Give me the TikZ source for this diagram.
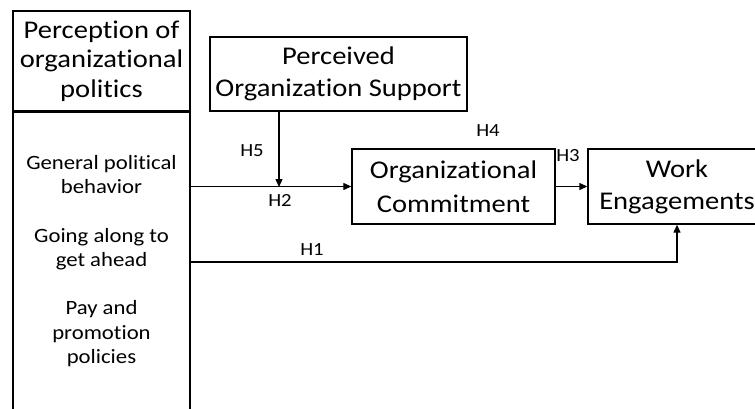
\documentclass[tikz,border=0pt]{standalone}
\usepackage{fontspec}
\setmainfont[FakeStretch=1.12, Ligatures=NoCommon]{Carlito}
\usetikzlibrary{arrows.meta}
\tikzset{
    box/.style={draw, line width=1.4pt, align=center, inner sep=0pt},
    bigtext/.style={font=\fontsize{25.5}{32}\selectfont},
    smalltext/.style={font=\fontsize{20.3}{24.4}\selectfont, align=center},
    hlabel/.style={font=\fontsize{18.5}{20}\selectfont, inner sep=0pt},
    link/.style={line width=1.3pt, -{Triangle[length=8pt,width=7pt]}}
}
\begin{document}
\begin{tikzpicture}[x=1pt, y=-1pt]
    % Page size of the reference
    \useasboundingbox (0,0) rectangle (755,409);
    \clip (0,0) rectangle (755,409);

    % Left column: header and the list of dimensions
    \node[box, font=\fontsize{25.5}{29.5}\selectfont, minimum width=177pt, minimum height=100pt] (popheader) at (101.5,61)
        {Perception of\\organizational\\politics};
    \node[box, anchor=north, minimum width=177pt, minimum height=320pt] (poplist) at (popheader.south) {};
    \node[smalltext] (popitems) at (101.5,261)
        {General political\\behavior\\[24pt]Going along to\\get ahead\\[24pt]Pay and\\promotion\\policies};

    % Moderator, mediator and outcome
    \node[box, bigtext, minimum width=257pt, minimum height=74pt] (pos) at (338.5,74)
        {Perceived\\Organization Support};
    \node[box, font=\fontsize{25.5}{34}\selectfont, minimum width=203pt, minimum height=75pt] (oc) at (453.5,186.5)
        {Organizational\\Commitment};
    \node[box, bigtext, minimum width=178pt, minimum height=75pt] (we) at (677,186.5)
        {Work\\Engagements};

    % Helper points for the paths
    \coordinate (modpoint) at (279,187);
    \coordinate (directbend) at (677,262);

    % Paths between the constructs
    \draw[link] (oc.west -| poplist.east) -- (oc.west);
    \draw[link] (pos.south -| modpoint) -- (modpoint);
    \draw[link] (oc.east) -- (we.west);
    \draw[link] (directbend -| poplist.east) -| (we.south);

    % Hypothesis labels
    \node[hlabel] (h1) at (312,250) {H1};
    \node[hlabel] (h2) at (280,200) {H2};
    \node[hlabel] (h3) at (568,156) {H3};
    \node[hlabel] (h4) at (488,131) {H4};
    \node[hlabel] (h5) at (252,151) {H5};
\end{tikzpicture}
\end{document}
